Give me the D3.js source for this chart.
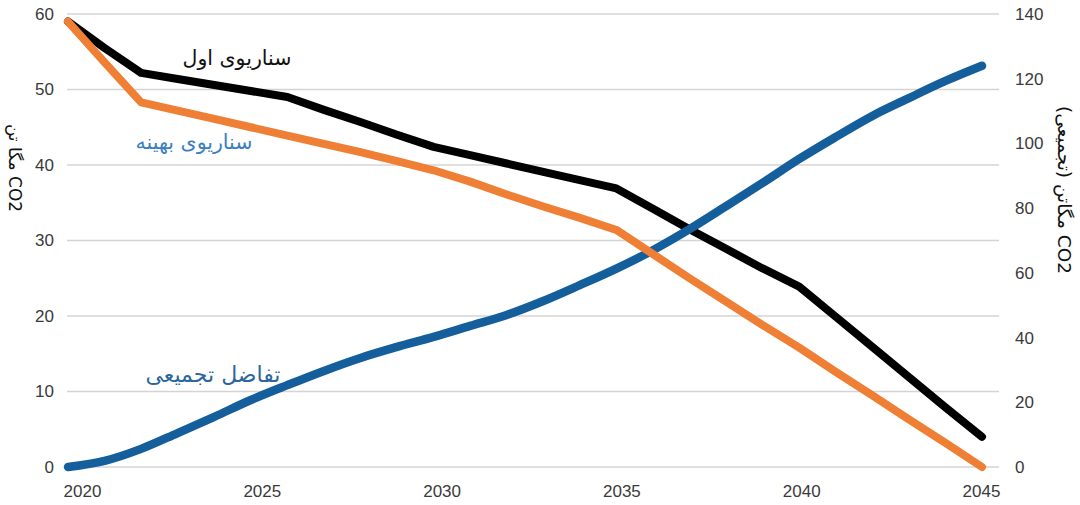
<!DOCTYPE html>
<html>
<head>
<meta charset="utf-8">
<script src="https://cdn.jsdelivr.net/npm/d3@7"></script>
<style>
  body { margin: 0; background: #fff; }
  .chart { width: 1080px; height: 505px; }
  text { font-family: "Liberation Sans", Arial, sans-serif; }
  .fa { font-family: "DejaVu Sans", "Noto Sans", sans-serif; }
</style>
</head>
<body>
<div class="chart"></div>
<script>
//years on the x axis
let years = d3.range(2020, 2046);
let yearTicks = [2020, 2025, 2030, 2035, 2040, 2045];

//left axis (Mt CO2 per year)
let scenarioOne = [59, 55.5, 52.2, 51.4, 50.6, 49.8, 49, 47.3, 45.7, 44.0, 42.4,
    41.3, 40.2, 39.1, 38.0, 36.9, 34.2, 31.5, 28.9, 26.3, 23.9,
    19.9, 15.9, 11.9, 7.9, 4.0];
let scenarioBest = [59, 53.6, 48.3, 47.2, 46.1, 45, 43.9, 42.8, 41.7, 40.5, 39.3,
    37.8, 36.1, 34.5, 33, 31.4, 28.2, 25, 21.9, 18.8, 15.8,
    12.6, 9.5, 6.3, 3.2, 0];
let leftTicks = [0, 10, 20, 30, 40, 50, 60];

//right axis (cumulative Mt CO2)
let cumulative = [0, 1.9, 5.6, 10.5, 15.5, 20.7, 25.3, 29.7, 33.7, 37.1, 40.2,
    43.6, 47, 51.3, 56.2, 61.3, 67, 73.5, 80.6, 87.8, 95.2,
    102, 108.5, 114, 119.3, 124];
let rightTicks = [0, 20, 40, 60, 80, 100, 120, 140];

let seriesLabels = ["سناریوی اول", "سناریوی بهینه", "تفاضل تجمیعی"];
let leftTitle = "CO2 مگا تن";
let rightTitle = "CO2 مگاتن (تجمیعی)";

let chart = {};

chart.svg = d3.select(".chart").append("svg")
    .attr("width", 1080)
    .attr("height", 505);

//plot area
chart.x = d3.scaleLinear().domain([2020, 2045]).range([68, 982]);
//the year labels sit a bit to the right of the first point, like the original
chart.xLabel = d3.scaleLinear().domain([2020, 2045]).range([82, 981]);
chart.yLeft = d3.scaleLinear().domain([0, 60]).range([467, 14]);
chart.yRight = d3.scaleLinear().domain([0, 140]).range([467, 14]);

//gridlines from the left axis
chart.svg.append("g")
    .selectAll("line")
    .data(leftTicks).enter()
    .append("line")
    .attr("x1", 67)
    .attr("x2", 999)
    .attr("y1", d => chart.yLeft(d))
    .attr("y2", d => chart.yLeft(d))
    .attr("stroke", "#d4d4d4")
    .attr("stroke-width", 1.6);

//left axis labels
let leftAxis = chart.svg.append("g")
    .attr("transform", "translate(67,0)")
    .call(d3.axisLeft(chart.yLeft).tickValues(leftTicks).tickSize(0).tickPadding(13));
leftAxis.select(".domain").remove();
leftAxis.selectAll("text").attr("font-size", 17).attr("fill", "#3a3a3a")
    .style("font-family", "Liberation Sans, Arial, sans-serif");

//right axis labels
let rightAxis = chart.svg.append("g")
    .attr("transform", "translate(1001,0)")
    .call(d3.axisRight(chart.yRight).tickValues(rightTicks).tickSize(0).tickPadding(14));
rightAxis.select(".domain").remove();
rightAxis.selectAll("text").attr("font-size", 17).attr("fill", "#3a3a3a")
    .style("font-family", "Liberation Sans, Arial, sans-serif");

//bottom axis labels
let bottomAxis = chart.svg.append("g")
    .attr("transform", "translate(0,481)")
    .call(d3.axisBottom(chart.xLabel).tickValues(yearTicks).tickFormat(d3.format("d")).tickSize(0).tickPadding(4));
bottomAxis.select(".domain").remove();
bottomAxis.selectAll("text").attr("font-size", 17).attr("fill", "#3a3a3a")
    .style("font-family", "Liberation Sans, Arial, sans-serif");

//lines
let lineLeft = d3.line()
    .x((d, i) => chart.x(years[i]))
    .y(d => chart.yLeft(d));

let lineRight = d3.line()
    .x((d, i) => chart.x(years[i]))
    .y(d => chart.yRight(d))
    .curve(d3.curveMonotoneX);

chart.svg.append("path")
    .datum(scenarioOne)
    .attr("d", lineLeft)
    .attr("fill", "none")
    .attr("stroke", "#000")
    .attr("stroke-width", 8)
    .attr("stroke-linejoin", "round")
    .attr("stroke-linecap", "round");

chart.svg.append("path")
    .datum(cumulative)
    .attr("d", lineRight)
    .attr("fill", "none")
    .attr("stroke", "#155e9c")
    .attr("stroke-width", 8.5)
    .attr("stroke-linejoin", "round")
    .attr("stroke-linecap", "round");

chart.svg.append("path")
    .datum(scenarioBest)
    .attr("d", lineLeft)
    .attr("fill", "none")
    .attr("stroke", "#ee7f35")
    .attr("stroke-width", 8)
    .attr("stroke-linejoin", "round")
    .attr("stroke-linecap", "round");

//series labels
chart.svg.append("text").attr("class", "fa")
    .attr("x", 237).attr("y", 65)
    .attr("text-anchor", "middle")
    .attr("font-size", 20.5)
    .attr("fill", "#111")
    .text(seriesLabels[0]);

chart.svg.append("text").attr("class", "fa")
    .attr("x", 194).attr("y", 149)
    .attr("text-anchor", "middle")
    .attr("font-size", 20.5)
    .attr("fill", "#3a7fc0")
    .text(seriesLabels[1]);

chart.svg.append("text").attr("class", "fa")
    .attr("x", 213).attr("y", 382)
    .attr("text-anchor", "middle")
    .attr("font-size", 22)
    .attr("fill", "#2b679d")
    .text(seriesLabels[2]);

//axis titles
chart.svg.append("text").attr("class", "fa")
    .attr("transform", "translate(9,168) rotate(90)")
    .attr("text-anchor", "middle")
    .attr("direction", "rtl")
    .attr("font-size", 17)
    .attr("fill", "#111")
    .text(leftTitle);

chart.svg.append("text").attr("class", "fa")
    .attr("transform", "translate(1058,190) rotate(90)")
    .attr("text-anchor", "middle")
    .attr("direction", "rtl")
    .attr("font-size", 18.5)
    .attr("fill", "#111")
    .text(rightTitle);
</script>
</body>
</html>
